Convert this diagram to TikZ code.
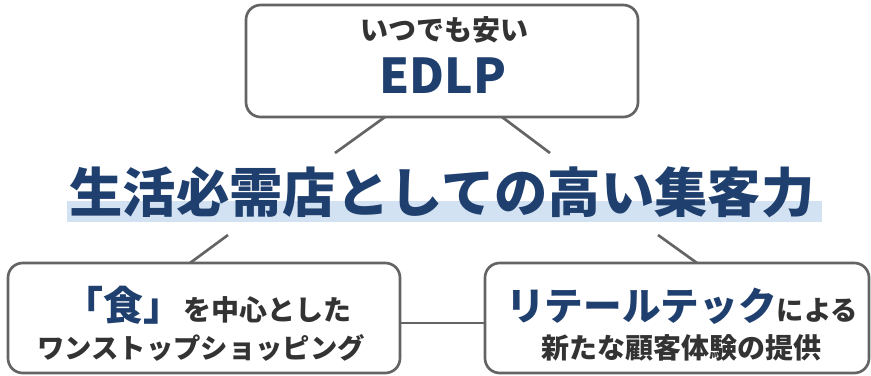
\documentclass[tikz,border=0pt]{standalone}
\usepackage{fontspec}
\setmainfont{Noto Sans CJK JP}
\definecolor{navy}{RGB}{31,63,110}
\definecolor{inkgray}{RGB}{51,51,51}
\definecolor{framegray}{RGB}{100,100,100}
\definecolor{bandblue}{RGB}{210,226,242}

\tikzset{every picture/.style={line width=0.75pt}}

\begin{document}
\begin{tikzpicture}[x=0.75pt,y=0.75pt,yscale=-1,xscale=1,
  pane/.style={draw=framegray, line width=2pt, rounded corners=11pt, inner sep=0pt, outer sep=0pt},
  link/.style={draw=framegray, line width=2pt},
  txt/.style={inner sep=0pt, anchor=base, text=inkgray}]
\useasboundingbox (0,0) rectangle (871,375);

%Rounded Rect: top
\node [pane, minimum width=294pt, minimum height=84pt] (edlpbox) at (442,61) {};
%Rounded Rect: bottom left
\node [pane, minimum width=294pt, minimum height=82.5pt] (foodbox) at (204,318) {};
%Rounded Rect: bottom right
\node [pane, minimum width=288pt, minimum height=82.5pt] (techbox) at (677,318) {};

%Shape: Rectangle (highlight under title)
\fill [bandblue] (67,201) rectangle (822,222);

%Connector ends near the title
\coordinate (titlenw) at (335,153);
\coordinate (titlene) at (550,153);
\coordinate (titlesw) at (228,235);
\coordinate (titlese) at (658,235);

%Straight Lines
\draw [link] (edlpbox.south -| 385,0) -- (titlenw);
\draw [link] (edlpbox.south -| 502,0) -- (titlene);
\draw [link] (foodbox.north -| 190,0) -- (titlesw);
\draw [link] (techbox.north -| 697,0) -- (titlese);
\draw [link] (foodbox.east |- 0,323) -- (techbox.west |- 0,323);

% Text Node
\node [txt, text=navy, font=\bfseries\fontsize{40}{40}\selectfont] (title) at (442,212) {生活必需店としての高い集客力};
% Text Node
\node [txt, font=\bfseries\fontsize{21}{21}\selectfont] (cheap) at (444,40) {いつでも安い};
% Text Node
\node [txt, text=navy, font=\bfseries\fontsize{36}{36}\selectfont] (edlp) at (443,93) {EDLP};
% Text Node
\node [txt, font=\bfseries\fontsize{21}{21}\selectfont] (foodtop) at (207,320) {{\fontsize{30}{30}\selectfont\color{navy}「食」}を中心とした};
% Text Node
\node [txt, font=\bfseries\fontsize{20.5}{20.5}\selectfont] (foodbot) at (201,358) {ワンストップショッピング};
% Text Node
\node [txt, font=\bfseries\fontsize{20.5}{20.5}\selectfont] (techtop) at (682,320) {{\fontsize{29}{29}\selectfont\color{navy}リテールテック}による};
% Text Node
\node [txt, font=\bfseries\fontsize{21}{21}\selectfont] (techbot) at (681,358) {新たな顧客体験の提供};

\end{tikzpicture}
\end{document}
